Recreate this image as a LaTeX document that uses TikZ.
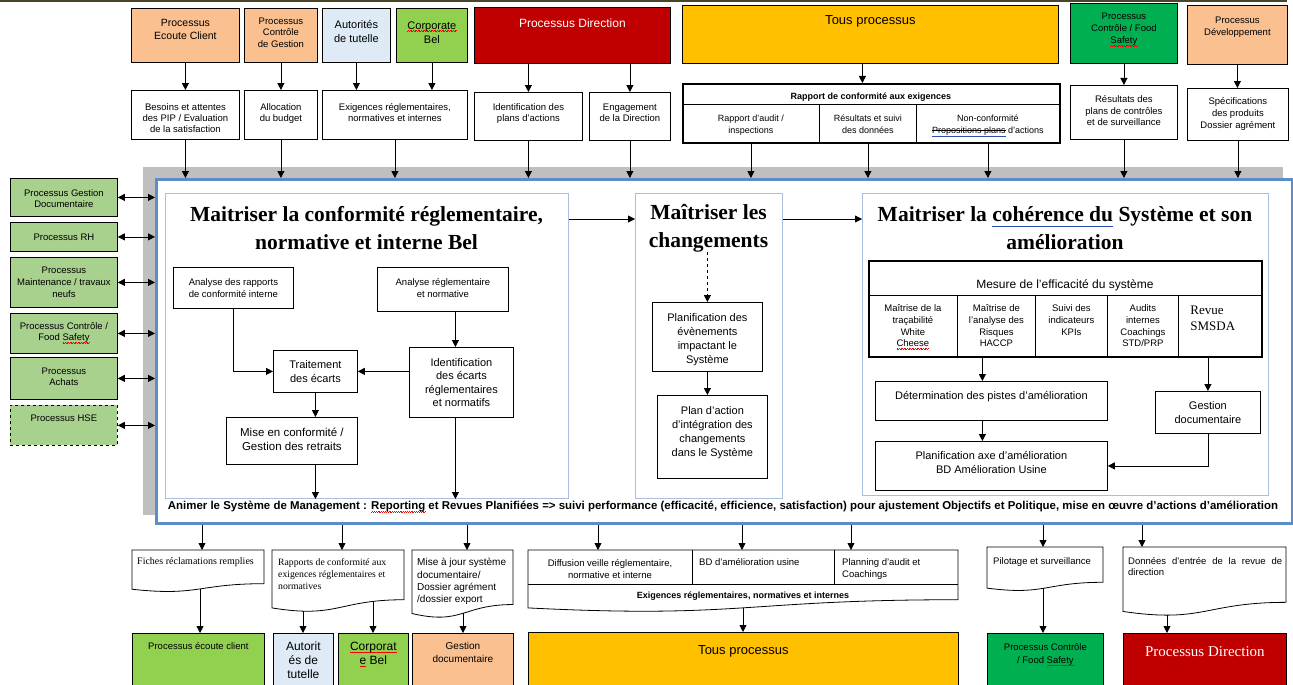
\documentclass[tikz,border=0pt]{standalone}
\usepackage{fontspec}
\setmainfont{Liberation Sans}
\newfontfamily\serifface{Liberation Serif}
\usepackage{graphicx}
\usetikzlibrary{arrows.meta}

\definecolor{peach}{HTML}{FAC090}
\definecolor{paleblue}{HTML}{DEEBF7}
\definecolor{lime}{HTML}{92D050}
\definecolor{darkred}{HTML}{C00000}
\definecolor{gold}{HTML}{FFC000}
\definecolor{fsgreen}{HTML}{00B050}
\definecolor{sidegreen}{HTML}{A9D18E}
\definecolor{shadowgray}{HTML}{BFBFBF}
\definecolor{frameblue}{HTML}{5B8DC9}
\definecolor{panelblue}{HTML}{A9BFDD}
\definecolor{topline}{HTML}{494529}
\definecolor{linkblue}{HTML}{2F4FB0}

% spelling marks and edit marks
\newsavebox\markbox
\newcount\wavecount
\newcommand\redwave[1]{\leavevmode\sbox\markbox{#1}\rlap{\color{red}\wavecount=\numexpr\wd\markbox/104858\relax
  \loop\ifnum\wavecount>0 \rule[-2.6pt]{0.8pt}{0.6pt}\rule[-1.9pt]{0.8pt}{0.6pt}\advance\wavecount-1 \repeat}\usebox\markbox}
\newcommand\blueline[1]{\leavevmode\sbox\markbox{#1}\rlap{\usebox\markbox}\textcolor{linkblue}{\rule[-0.25em]{\wd\markbox}{0.9pt}}}
\newcommand\strk[1]{\leavevmode\sbox\markbox{#1}\rlap{\usebox\markbox}\rlap{\rule[0.28em]{\wd\markbox}{0.6pt}}\textcolor{linkblue}{\rule[-0.3em]{\wd\markbox}{0.7pt}}}

\newcommand\fs[2]{\fontsize{#1pt}{#2pt}\selectfont}
% box content: width, height, top padding, text
\newcommand\pb[4]{\parbox[c][#2pt][t]{#1pt}{\centering\vspace*{#3pt}#4\par}}
% document shape: left, top, width, height
\newcommand\docshape[4]{\draw[doc] (#1,#2) -- ({#1+#3},#2) -- ({#1+#3},{#2+0.802*#4}) .. controls ({#1+0.5*#3},{#2+0.802*#4}) and ({#1+0.5*#3},{#2+1.1075*#4}) .. (#1,{#2+0.934*#4}) -- cycle;}

\tikzset{
  bx/.style={draw=black, line width=0.8pt, fill=white, inner sep=0pt, anchor=north west},
  arr/.style={line width=0.8pt, -{Triangle[length=7pt,width=7pt]}},
  darr/.style={line width=0.8pt, {Triangle[length=7pt,width=7pt]}-{Triangle[length=7pt,width=7pt]}},
  area/.style={inner sep=0pt, anchor=north west},
  panel/.style={area, draw=panelblue, line width=1pt},
  heading/.style={font=\serifface\bfseries\fs{21.5}{28}, align=center, inner sep=0pt},
  doc/.style={draw=black, line width=0.8pt, fill=white},
  side/.style={bx, fill=sidegreen, font=\fs{9.5}{11}},
  txt/.style={inner sep=0pt, anchor=north west},
}

\begin{document}
\begin{tikzpicture}[x=1pt,y=-1pt]
\useasboundingbox (0,0) rectangle (1293,685);
\draw[topline, line width=1.6pt] (0,1) -- (1287,1);

% management system frame
\node[area, fill=shadowgray, minimum width=1140pt, minimum height=348pt] (shadow) at (143,167) {};
\node[area, fill=white, draw=frameblue, line width=3pt, minimum width=1136pt, minimum height=344pt] (frame) at (155,178) {};

% ---------- suppliers (top row) ----------
\node[bx, fill=peach, font=\fs{10.5}{13}] (ecoute) at (131,8) {\pb{108}{54}{11}{Processus\\Ecoute Client}};
\node[bx, fill=peach, font=\fs{9.5}{11.5}] (ctrlgest) at (244,8) {\pb{73}{54}{9.5}{Processus\\Contrôle\\de Gestion}};
\node[bx, fill=paleblue, font=\fs{11}{14}] (autorites) at (322,8) {\pb{68}{54}{12}{Autorités\\de tutelle}};
\node[bx, fill=lime, font=\fs{11}{14}] (corporate) at (396,8) {\pb{71}{54}{13}{\redwave{Corporate}\\Bel}};
\node[bx, fill=darkred, text=white, font=\fs{12}{14}] (direction) at (474,7) {\pb{196}{56}{11.5}{Processus Direction}};
\node[bx, fill=gold, font=\fs{13}{15}] (tous) at (682,5) {\pb{376}{58}{10}{Tous processus}};
\node[bx, fill=fsgreen, font=\fs{9.5}{12}] (fstop) at (1070,3) {\pb{107}{60}{10}{Processus\\Contrôle / Food\\\redwave{Safety}}};
\node[bx, fill=peach, font=\fs{9.5}{12}] (devtop) at (1187,5) {\pb{100}{59}{11.5}{Processus\\Développement}};

% ---------- inputs ----------
\node[bx, font=\fs{9.5}{11}] (besoins) at (131,90) {\pb{108}{49}{13.5}{Besoins et attentes\\des PIP / Evaluation\\de la satisfaction}};
\node[bx, font=\fs{9.5}{11}] (budget) at (244,90) {\pb{73}{49}{13.5}{Allocation\\du budget}};
\node[bx, font=\fs{9.5}{11}] (exig) at (322,90) {\pb{145}{49}{13.5}{Exigences réglementaires,\\normatives et internes}};
\node[bx, font=\fs{9.5}{11}] (ident) at (474,92) {\pb{108}{48}{11.5}{Identification des\\plans d'actions}};
\node[bx, font=\fs{9.5}{11}] (engag) at (589,92) {\pb{81}{48}{11.5}{Engagement\\de la Direction}};
\node[bx, font=\bfseries\fs{9}{11}] (rapH) at (682,83) {\pb{377}{21}{9.5}{Rapport de conformité aux exigences}};
\node[bx, font=\fs{9}{12}] (rapA) at (682,104) {\pb{137}{38}{10.5}{Rapport d'audit /\\inspections}};
\node[bx, font=\fs{9}{12}] (rapB) at (819,104) {\pb{97}{38}{10.5}{Résultats et suivi\\des données}};
\node[bx, font=\fs{9}{12}] (rapC) at (916,104) {\pb{143}{38}{10.5}{Non-conformité\\\strk{Propositions plans} d'actions}};
\node[area, draw=black, line width=2.2pt, minimum width=377pt, minimum height=59pt] (rap) at (682,83) {};
\node[bx, font=\fs{9.5}{11.5}] (fsres) at (1070,85) {\pb{107}{54}{10.5}{Résultats des\\plans de contrôles\\et de surveillance}};
\node[bx, font=\fs{9.5}{12}] (spec) at (1187,88) {\pb{101}{52}{9.5}{Spécifications\\des produits\\Dossier agrément}};

\draw[arr] (ecoute.south) -- (ecoute.south |- besoins.north);
\draw[arr] (ctrlgest.south) -- (ctrlgest.south |- budget.north);
\draw[arr] (autorites.south) -- (autorites.south |- exig.north);
\draw[arr] (corporate.south) -- (corporate.south |- exig.north);
\draw[arr] (ident.north |- direction.south) -- (ident.north);
\draw[arr] (engag.north |- direction.south) -- (engag.north);
\coordinate (tousx) at ([xshift=-8pt]tous.south);
\draw[arr] (tousx) -- (tousx |- rap.north);
\draw[arr] (fstop.south) -- (fstop.south |- fsres.north);
\draw[arr] (devtop.south) -- (devtop.south |- spec.north);
\foreach \n in {besoins,budget,exig,ident,engag,rapA,rapB,rapC,fsres,spec}
  \draw[arr] (\n.south) -- (\n.south |- frame.north);

% ---------- support processes ----------
\node[side] (gdoc) at (10,178) {\pb{107}{38}{11.5}{Processus Gestion\\Documentaire}};
\node[side] (rh) at (10,222) {\pb{107}{29}{11.5}{Processus RH}};
\node[side, font=\fs{9.5}{12}] (maint) at (10,257) {\pb{107}{50}{9.5}{Processus\\Maintenance / travaux\\neufs}};
\node[side] (ctrlfs) at (10,313) {\pb{107}{40}{9.5}{Processus Contrôle /\\Food \redwave{Safety}}};
\node[side] (achats) at (10,357) {\pb{107}{42}{10.5}{Processus\\Achats}};
\node[side, dashed] (hse) at (10,405) {\pb{107}{40}{9.5}{Processus HSE}};
\foreach \n in {gdoc,rh,maint,ctrlfs,achats,hse}
  \draw[darr] (\n.east) -- (\n.east -| frame.west);

% ---------- three panels ----------
\node[panel, minimum width=403pt, minimum height=305pt] (p1) at (165,193) {};
\node[panel, minimum width=147pt, minimum height=305pt] (p2) at (635,193) {};
\node[panel, minimum width=406pt, minimum height=302pt] (p3) at (862,193) {};
\draw[arr] ([yshift=-26pt]p1.north east) -- ([yshift=-26pt]p2.north west);
\draw[arr] ([yshift=-26pt]p2.north east) -- ([yshift=-26pt]p3.north west);

\node[heading] (t1) at (366.5,228) {Maitriser la conformité réglementaire,\\normative et interne Bel};
\node[heading] (t2) at (708.5,228) {Maîtriser les\\changements};
\node[heading] (t3) at (1065,228) {Maitriser la \blueline{cohérence du} Système et son\\amélioration};

% compliance panel
\node[bx, font=\fs{9.5}{11.5}] (ar) at (173,267) {\pb{120}{41}{11.5}{Analyse des rapports\\de conformité interne}};
\node[bx, font=\fs{9.5}{11.5}] (an) at (377,267) {\pb{131}{44}{11.5}{Analyse réglementaire\\et normative}};
\node[bx, font=\fs{11}{14}] (tr) at (273,350) {\pb{84}{42}{10}{Traitement\\des écarts}};
\node[bx, font=\fs{11}{13.5}] (id) at (409,347) {\pb{104}{70}{11}{Identification\\des écarts\\réglementaires\\et normatifs}};
\node[bx, font=\fs{11.5}{14}] (mc) at (226,417) {\pb{131}{47}{10.8}{Mise en conformité /\\Gestion des retraits}};
\coordinate (idx) at ([xshift=-6pt]id.north);
\coordinate (idb) at ([xshift=-6pt]id.south);
\draw[arr] (ar.south) |- (tr.west);
\draw[arr] (idx |- an.south) -- (idx);
\draw[arr] (tr.east -| id.west) -- (tr.east);
\draw[arr] (tr.south) -- (tr.south |- mc.north);
\draw[arr] (tr.south |- mc.south) -- (tr.south |- p1.south);
\draw[arr] (idb) -- (idb |- p1.south);

% change panel
\node[bx, font=\fs{11}{14}] (pl) at (652,302) {\pb{110}{69}{11}{Planification des\\évènements\\impactant le\\Système}};
\node[bx, font=\fs{11}{14}] (pa) at (657,395) {\pb{110}{83}{11}{Plan d'action\\d'intégration des\\changements\\dans le Système}};
\draw[arr, dashed] (pl.north |- t2.south) -- (pl.north);
\draw[arr] (pl.south) -- (pl.south |- pa.north);

% coherence panel
\node[bx, font=\fs{12}{14}] (mesH) at (868,260) {\pb{393}{35}{19}{Mesure de l'efficacité du système}};
\node[bx, font=\fs{9.5}{11.7}] (c1) at (868,295) {\pb{89}{61}{9.5}{Maîtrise de la\\traçabilité\\White\\\redwave{Cheese}}};
\node[bx, font=\fs{9.5}{11.7}] (c2) at (957,295) {\pb{78}{61}{9.5}{Maîtrise de\\l'analyse des\\Risques\\HACCP}};
\node[bx, font=\fs{9.5}{11.7}] (c3) at (1035,295) {\pb{72}{61}{9.5}{Suivi des\\indicateurs\\KPIs}};
\node[bx, font=\fs{9.5}{11.7}] (c4) at (1107,295) {\pb{71}{61}{9.5}{Audits\\internes\\Coachings\\STD/PRP}};
\node[bx, font=\serifface\fs{13}{16}] (c5) at (1178,295) {\parbox[c][61pt][t]{83pt}{\vspace*{10.5pt}\leftskip=12pt Revue\\SMSDA\par}};
\node[area, draw=black, line width=2.4pt, minimum width=393pt, minimum height=96pt] (mes) at (868,260) {};
\node[bx, font=\fs{11}{14}] (det) at (875,381) {\pb{232}{39}{10}{Détermination des pistes d'amélioration}};
\node[bx, font=\fs{11}{14}] (plan) at (875,441) {\pb{232}{49}{10}{Planification axe d'amélioration\\BD Amélioration Usine}};
\node[bx, font=\fs{11}{14}] (gd) at (1155,391) {\pb{105}{42}{10}{Gestion\\documentaire}};
\coordinate (detx) at ([xshift=-9pt]det.north);
\coordinate (detb) at ([xshift=-9pt]det.south);
\draw[arr] (detx |- mes.south) -- (detx);
\draw[arr] (detb) -- (detb |- plan.north);
\draw[arr] (gd.north |- mes.south) -- (gd.north);
\draw[arr] (gd.south) |- (plan.east);

% management review line
\node[inner sep=0pt] (animer) at (723,507) {\resizebox{1110pt}{!}{\bfseries\fs{10}{12}Animer le Système de Management : \redwave{Reporting} et Revues Planifiées => suivi performance (efficacité, efficience, satisfaction) pour ajustement Objectifs et Politique, mise en œuvre d'actions d'amélioration}};

% ---------- outputs ----------
\docshape{132}{550}{132}{42}
\node[txt, font=\serifface\fs{10}{12}] (fiches) at (137,557) {Fiches réclamations remplies};
\docshape{272}{550}{132}{62}
\node[txt, font=\serifface\fs{9.7}{12}, align=left] (rapports) at (278,558.5) {Rapports de conformité aux\\exigences réglementaires et\\normatives};
\docshape{412}{550}{101}{68}
\node[txt, font=\fs{10}{12.3}, align=left] (majsys) at (417,558.4) {Mise à jour système\\documentaire/\\Dossier agrément\\/dossier export};
\docshape{528}{550}{430}{62}
\draw[line width=0.8pt] (528,584) -- (958,584) (692,550) -- (692,584) (834,550) -- (834,584);
\node[inner sep=0pt, font=\fs{9.5}{12}, align=center] (diff) at (610,569) {Diffusion veille réglementaire,\\normative et interne};
\node[txt, font=\fs{9.5}{12}] (bdu) at (699,558) {BD d'amélioration usine};
\node[txt, font=\fs{9.5}{12}, align=left] (plg) at (842,558) {Planning d'audit et\\Coachings};
\node[inner sep=0pt, font=\bfseries\fs{9}{11}] (exb) at (743,596) {Exigences réglementaires, normatives et internes};
\docshape{987}{547}{116}{44}
\node[txt, font=\fs{9.5}{12}] (pil) at (993,557) {Pilotage et surveillance};
\docshape{1123}{547}{163}{69}
\node[txt, font=\fs{9.5}{11.5}] (don) at (1128,557) {\parbox{154pt}{\tolerance=9999\hyphenpenalty=10000 Données d'entrée de la revue de direction}};

\coordinate (in1) at (202,550);
\coordinate (in2) at (342,550);
\coordinate (in3) at (467,550);
\coordinate (in4) at (598,550);
\coordinate (in5) at (742,550);
\coordinate (in6) at (851,550);
\coordinate (in7) at (1043,547);
\coordinate (in8) at (1142,547);
\foreach \c in {in1,in2,in3,in4,in5,in6,in7,in8}
  \draw[arr] (\c |- frame.south) -- (\c);

\node[bx, fill=lime, font=\fs{9.5}{12}] (ecl) at (132,633) {\pb{132}{60}{9.5}{Processus écoute client}};
\node[bx, fill=paleblue, font=\fs{12}{14}] (aut) at (273,633) {\pb{60}{60}{8.6}{Autorit\\és de\\tutelle}};
\node[bx, fill=lime, font=\fs{12}{14}] (corp) at (338,633) {\pb{70}{60}{8.6}{\redwave{Corporat}\\\redwave{e} Bel}};
\node[bx, fill=peach, font=\fs{10}{12.3}] (gdb) at (412,633) {\pb{101}{60}{9.3}{Gestion\\documentaire}};
\node[bx, fill=gold, font=\fs{13}{15}] (tousb) at (528,632) {\pb{430}{61}{13}{Tous processus}};
\node[bx, fill=fsgreen, font=\fs{9.5}{12.5}] (fsb) at (987,633) {\pb{116}{60}{10.5}{Processus Contrôle\\/ Food \redwave{Safety}}};
\node[bx, fill=darkred, text=white, font=\serifface\fs{15}{17}] (dirb) at (1123,633) {\pb{163}{60}{13}{Processus Direction}};

\coordinate (out1) at (200,589);
\coordinate (out2) at (303,611);
\coordinate (out3) at (373,601.4);
\coordinate (out4) at (463,613.3);
\coordinate (out5) at (743,607.8);
\coordinate (out6) at (1043,588.4);
\coordinate (out7) at (1167,615);
\draw[arr] (out1) -- (out1 |- ecl.north);
\draw[arr] (out2) -- (out2 |- aut.north);
\draw[arr] (out3) -- (out3 |- corp.north);
\draw[arr] (out4) -- (out4 |- gdb.north);
\draw[arr] (out5) -- (out5 |- tousb.north);
\draw[arr] (out6) -- (out6 |- fsb.north);
\draw[arr] (out7) -- (out7 |- dirb.north);
\end{tikzpicture}
\end{document}
